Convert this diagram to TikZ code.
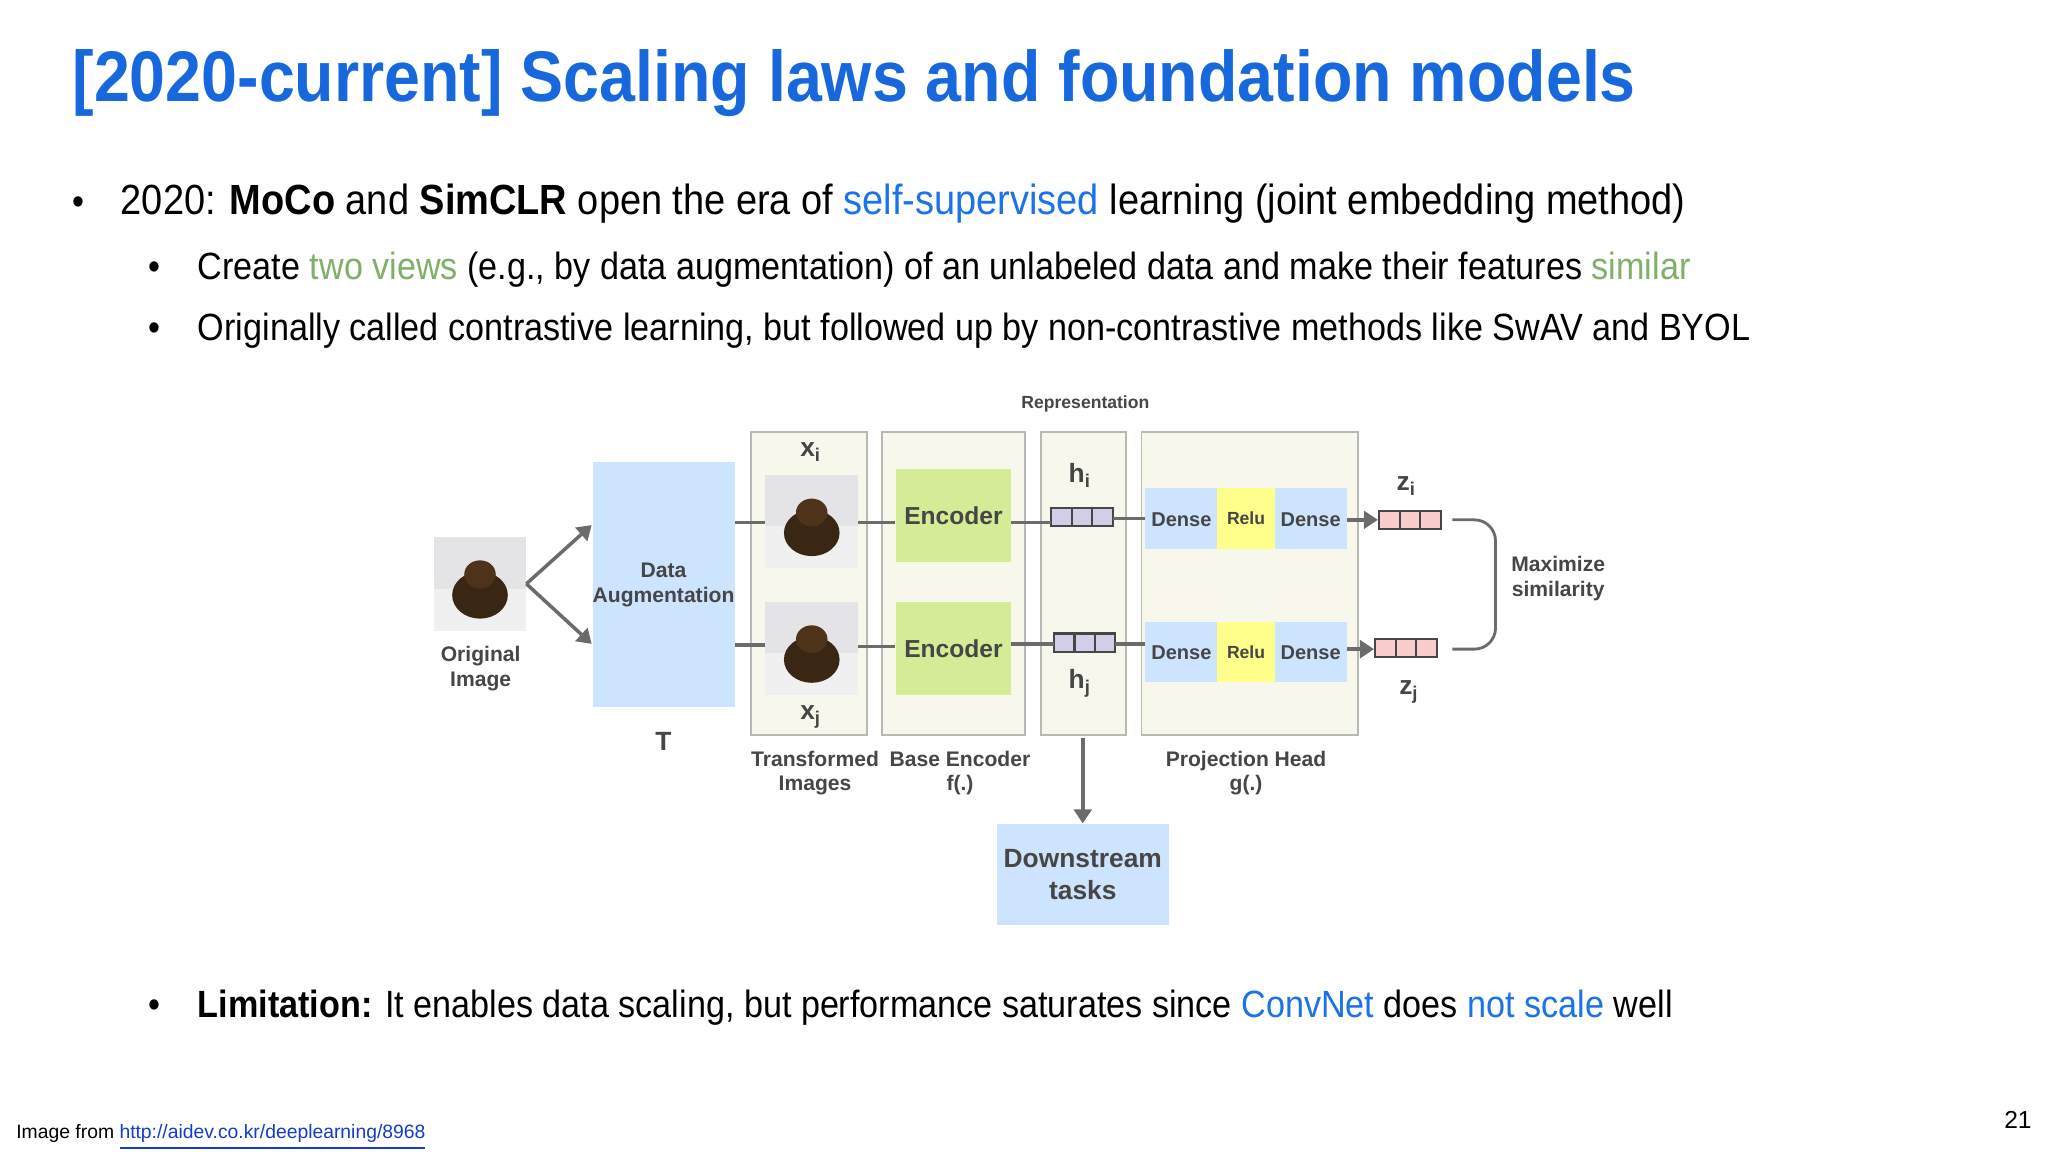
\documentclass[tikz,border=0pt]{standalone}
\usepackage{fontspec}
\setmainfont{Liberation Sans}
\newfontfamily\narrowfont[FakeStretch=0.9]{Liberation Sans}
\usetikzlibrary{arrows.meta}
\definecolor{tblue}{RGB}{22,104,220}
\definecolor{lblue}{RGB}{26,115,232}
\definecolor{vgreen}{RGB}{128,176,104}
\definecolor{dagray}{RGB}{70,70,70}
\definecolor{boxblue}{RGB}{205,228,255}
\definecolor{panel}{RGB}{248,247,236}
\definecolor{pborder}{RGB}{185,185,180}
\definecolor{encg}{RGB}{212,236,150}
\definecolor{relu}{RGB}{255,255,140}
\definecolor{vecp}{RGB}{210,206,232}
\definecolor{vecr}{RGB}{250,205,205}
\definecolor{lnk}{RGB}{20,60,200}
\tikzset{
  x=0.01306cm, y=-0.01306cm,
  txt/.style={inner sep=0, anchor=base west, font=\narrowfont\fontsize{10.8}{14}\selectfont},
  dtx/.style={inner sep=0, text=dagray, font=\bfseries\fontsize{6}{7}\selectfont, align=center},
  pan/.style={draw=pborder, fill=panel, line width=0.5pt},
  conn/.style={draw=dagray!80, line width=1pt},
  arr/.style={draw=dagray!80, line width=1pt, -{Triangle[length=4pt,width=5pt]}},
}
\newcommand{\catpic}[4]{% x1 y1 x2 y2
  \fill[gray!12] (#1,#2) rectangle (#3,#4);
  \fill[blue!6!gray!20] (#1,#2) rectangle (#3,{#2+0.55*(#4-#2)});
  \fill[black!70!brown] ({0.5*(#1+#3)},{#2+0.62*(#4-#2)}) ellipse ({0.3*(#3-#1)} and {0.25*(#4-#2)});
  \fill[black!60!brown] ({0.5*(#1+#3)},{#2+0.4*(#4-#2)}) ellipse ({0.17*(#3-#1)} and {0.15*(#4-#2)});
}
\newcommand{\vecbox}[4]{% x1 y1 x2 fill
  \draw[fill=#4, draw=dagray, line width=0.6pt] (#1,#2) rectangle (#3,{#2+14});
  \draw[dagray, line width=0.6pt] ({#1+(#3-#1)/3},#2) -- ++(0,14) ({#1+2*(#3-#1)/3},#2) -- ++(0,14);
}
\begin{document}
\begin{tikzpicture}
\useasboundingbox[fill=white] (0,0) rectangle (1568,882);
% title
\node[inner sep=0, anchor=base west, text=tblue, font=\narrowfont\bfseries\fontsize{20.4}{24}\selectfont] (title) at (55,78) {[2020-current] Scaling laws and foundation models};
% bullets
\node[txt] (b1d) at (55,164) {•};
\node[txt, font=\narrowfont\fontsize{12}{14}\selectfont] (b1) at (92,164) {2020: \textbf{MoCo} and \textbf{SimCLR} open the era of \textcolor{lblue}{self-supervised} learning (joint embedding method)};
\node[txt] (b2d) at (113,214) {•};
\node[txt] (b2) at (151,214) {Create \textcolor{vgreen}{two views} (e.g., by data augmentation) of an unlabeled data and make their features \textcolor{vgreen}{similar}};
\node[txt] (b3d) at (113,261) {•};
\node[txt] (b3) at (151,261) {Originally called contrastive learning, but followed up by non-contrastive methods like SwAV and BYOL};
\node[txt] (b4d) at (113,779) {•};
\node[txt] (b4) at (151,779) {\textbf{Limitation:} It enables data scaling, but performance saturates since \textcolor{lblue}{ConvNet} does \textcolor{lblue}{not scale} well};
\node[inner sep=0, anchor=base west, font=\fontsize{5.5}{7}\selectfont] (src) at (12,872) {Image from \textcolor{lnk}{\underline{http://aidev.co.kr/deeplearning/8968}}};
\node[inner sep=0, anchor=base west, font=\fontsize{7}{8}\selectfont] (pg) at (1534,864) {21};

% diagram
\catpic{332}{411}{403}{483}
\coordinate (orig) at (403,447);
\node[dtx] (origlbl) at (368,512) {Original\\Image};
\node[fill=boxblue, minimum width=109*0.01306cm, minimum height=187*0.01306cm, inner sep=0] (da) at (508.5,447.5) {};
\node[dtx] (dalbl) at (508,448) {Data\\Augmentation};
\node[dtx, font=\bfseries\fontsize{7.5}{8}\selectfont] (T) at (508,568) {T};
\draw[arr] (orig) -- (453,402);
\draw[arr] (orig) -- (453,493);

\draw[pan] (575,331) rectangle (664,563);
\draw[pan] (675,331) rectangle (785,563);
\draw[pan] (797,331) rectangle (862,563);
\draw[pan] (874,331) rectangle (1040,563);

\catpic{586}{364}{657}{435}
\catpic{586}{461}{657}{532}
\node[dtx, font=\bfseries\fontsize{7.5}{8}\selectfont] (xi) at (621,346) {x\textsubscript{i}};
\node[dtx, font=\bfseries\fontsize{7.5}{8}\selectfont] (xj) at (621,549) {x\textsubscript{j}};

\node[fill=encg, minimum width=88*0.01306cm, minimum height=71*0.01306cm, inner sep=0, text=dagray, font=\bfseries\fontsize{7}{9}\selectfont] (enci) at (730,394.5) {Encoder};
\node[fill=encg, minimum width=88*0.01306cm, minimum height=71*0.01306cm, inner sep=0, text=dagray, font=\bfseries\fontsize{7}{9}\selectfont] (encj) at (730,496.5) {Encoder};

\node[dtx, font=\bfseries\fontsize{7.5}{8}\selectfont] (hi) at (827,364) {h\textsubscript{i}};
\node[dtx, font=\bfseries\fontsize{7.5}{8}\selectfont] (hj) at (827,523) {h\textsubscript{j}};
\vecbox{805}{389}{852}{vecp}
\vecbox{807}{485}{854}{vecp}

% projection rows
\foreach \r/\yy in {i/374, j/476}{
  \fill[boxblue] (877,\yy) rectangle (932,\yy+46);
  \fill[relu] (932,\yy) rectangle (976,\yy+46);
  \fill[boxblue] (976,\yy) rectangle (1031,\yy+46);
  \node[dtx, font=\bfseries\fontsize{5.7}{7}\selectfont] (d1\r) at (904.5,\yy+24) {Dense};
  \node[dtx, font=\bfseries\fontsize{5}{6}\selectfont] (re\r) at (954,\yy+23) {Relu};
  \node[dtx, font=\bfseries\fontsize{5.7}{7}\selectfont] (d2\r) at (1003.5,\yy+24) {Dense};
}
\vecbox{1056}{391}{1103}{vecr}
\vecbox{1053}{489}{1100}{vecr}
\node[dtx, font=\bfseries\fontsize{7.5}{8}\selectfont] (zi) at (1077,372) {z\textsubscript{i}};
\node[dtx, font=\bfseries\fontsize{7.5}{8}\selectfont] (zj) at (1079,530) {z\textsubscript{j}};

% connectors
\draw[conn] (563,400) -- (586,400);
\draw[conn] (563,494) -- (586,494);
\draw[conn] (657,400) -- (enci.west |- 0,400);
\draw[conn] (657,495) -- (encj.west |- 0,495);
\draw[conn] (774,400) -- (805,400);
\draw[conn] (774,493) -- (807,493);
\draw[conn] (852,397) -- (877,397);
\draw[conn] (854,493) -- (877,493);
\draw[arr] (1031,398) -- (1055,398);
\draw[arr] (1031,497) -- (1052,497);
\draw[draw=dagray!80, line width=0.8pt, rounded corners=6pt] (1112,398) -- (1145,398) -- (1145,497) -- (1112,497);
\node[dtx] (maxsim) at (1193,443) {Maximize\\similarity};

\node[dtx, font=\bfseries\fontsize{5}{6}\selectfont] (repr) at (831,309) {Representation};
\node[dtx] (tlbl) at (624,592) {Transformed\\Images};
\node[dtx] (belbl) at (735,592) {Base Encoder\\f(.)};
\node[dtx] (phlbl) at (954,592) {Projection Head\\g(.)};

\node[fill=boxblue, minimum width=132*0.01306cm, minimum height=77*0.01306cm, inner sep=0, text=dagray, font=\bfseries\fontsize{7.5}{9}\selectfont, align=center] (ds) at (829,669.5) {Downstream\\tasks};
\draw[arr] (829,565) -- (ds.north);
\end{tikzpicture}
\end{document}
